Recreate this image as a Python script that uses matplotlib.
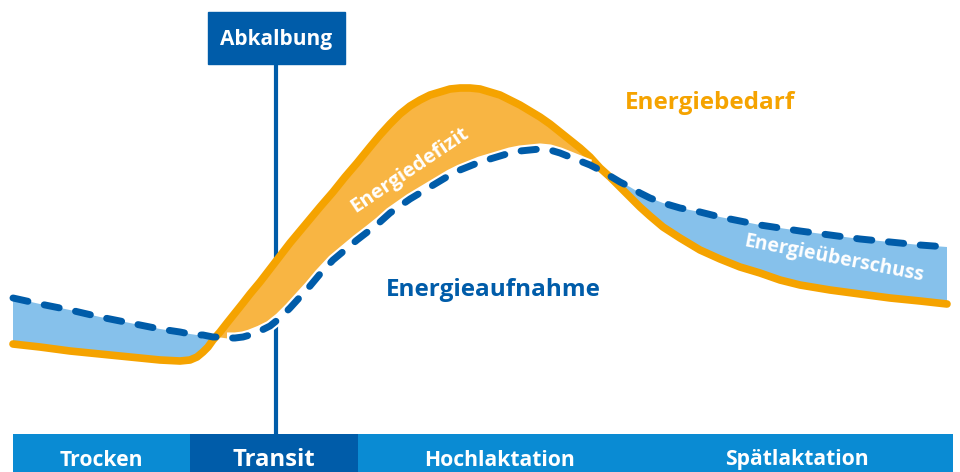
import matplotlib
matplotlib.use("Agg")
import matplotlib.pyplot as plt
from matplotlib.patches import Rectangle
import numpy as np

plt.rcParams['font.family'] = ['Open Sans', 'DejaVu Sans']

# Kurven (x = Zeitachse, y = Bildhoehe, kleiner = mehr Energie)
zeit = [13, 40, 70, 100, 130, 160, 180, 190, 197, 203, 208, 213, 220, 227, 235, 243,
        250, 260, 270, 280, 290, 300, 310, 320, 333, 345, 357, 370, 380, 390, 400,
        410, 420, 430, 440, 450, 460, 470, 480, 490, 500, 510, 520, 530, 540, 550,
        560, 570, 580, 590, 600, 610, 620, 630, 640, 650, 663, 680, 700, 720, 740,
        760, 780, 800, 830, 860, 890, 920, 947]
bedarf = [344, 347, 351, 354, 357, 360, 361, 360, 357, 352, 347, 340, 332, 323, 313, 303,
          294, 282, 269, 256, 243, 231, 219, 207, 192, 177, 163, 147, 135, 124, 114,
          106, 100, 95, 92, 89, 88, 88, 89, 92, 95, 100, 105, 111, 117, 124,
          132, 140, 148, 157, 168, 177, 187, 197, 207, 216, 227, 238, 250, 259, 267,
          273, 280, 285, 290, 294, 298, 301, 304]
aufnahme = [298, 304, 310, 317, 323, 329, 332, 334, 335, 335, 336, 337, 337, 338, 338, 337,
            335, 331, 326, 318, 308, 297, 286, 274, 260, 250, 240, 230, 222, 213, 206,
            199, 193, 187, 181, 175, 170, 166, 162, 159, 156, 153, 151, 150, 149, 150,
            153, 157, 161, 165, 170, 176, 182, 187, 193, 198, 203, 208, 212, 217, 221,
            225, 228, 231, 235, 239, 242, 245, 247]

# Phasen unten
phasen = ['Trocken', 'Transit', 'Hochlaktation', 'Spätlaktation']
phasen_grenzen = [13, 190, 358, 640, 953]
abkalbung_x = 276

ORANGE = '#f5a300'
ORANGE_FILL = '#f8b543'
HELLBLAU = '#86c1eb'
DUNKELBLAU = '#005ca9'
BALKENBLAU = '#0a8bd3'

fig = plt.figure(figsize=(9.6, 4.72), dpi=100)
ax = fig.add_axes([0, 0, 1, 1])
ax.set_xlim(0, 960)
ax.set_ylim(472, 0)
ax.axis('off')

x = np.array(zeit)
yb = np.array(bedarf)
ya = np.array(aufnahme)

# Ueberschuss / Defizit Flaechen
ax.fill_between(x, ya, yb, where=ya <= yb, interpolate=True, color=HELLBLAU, lw=0, zorder=2)
ax.fill_between(x, ya, yb, where=ya >= yb, interpolate=True, color=ORANGE_FILL, lw=0, zorder=2)

# Abkalbung Linie + Box
ax.plot([abkalbung_x, abkalbung_x], [64, 434], color=DUNKELBLAU, lw=3, zorder=1)
ax.add_patch(Rectangle((208, 12), 137, 52, color=DUNKELBLAU, zorder=6))
ax.text(abkalbung_x, 39, 'Abkalbung', color='white', fontsize=15, fontweight='bold',
        ha='center', va='center', zorder=7)

# Linien
ax.plot(x, yb, color=ORANGE, lw=5.5, solid_capstyle='round', solid_joinstyle='round', zorder=3)
defizit = (x >= 222) & (x <= 598)
ax.plot(x[defizit], ya[defizit], color='white', lw=8, solid_capstyle='butt', zorder=3.5)
ax.plot(x, ya, color=DUNKELBLAU, lw=5, dashes=(2.2, 2.4), dash_capstyle='round', zorder=4)

# Beschriftungen
ax.text(710, 103, 'Energiebedarf', color=ORANGE, fontsize=17.5, fontweight='bold',
        ha='center', va='center', zorder=7)
ax.text(493, 290, 'Energieaufnahme', color=DUNKELBLAU, fontsize=17.5, fontweight='bold',
        ha='center', va='center', zorder=7)
ax.text(410, 170, 'Energiedefizit', color='white', fontsize=14.5, fontweight='bold',
        ha='center', va='center', rotation=34, rotation_mode='anchor', zorder=7)
ax.text(834, 259, 'Energieüberschuss', color='white', fontsize=14, fontweight='bold',
        ha='center', va='center', rotation=-11, rotation_mode='anchor', zorder=7)

# Phasenbalken
for i, name in enumerate(phasen):
    x0, x1 = phasen_grenzen[i], phasen_grenzen[i + 1]
    farbe = DUNKELBLAU if name == 'Transit' else BALKENBLAU
    ax.add_patch(Rectangle((x0, 434), x1 - x0, 45, color=farbe, lw=0, zorder=5))
    groesse = 17.2 if name == 'Transit' else 15.2
    ax.text((x0 + x1) / 2, 460, name, color='white', fontsize=groesse, fontweight='bold',
            ha='center', va='center', zorder=7)

fig.savefig('out.png', dpi=100)
